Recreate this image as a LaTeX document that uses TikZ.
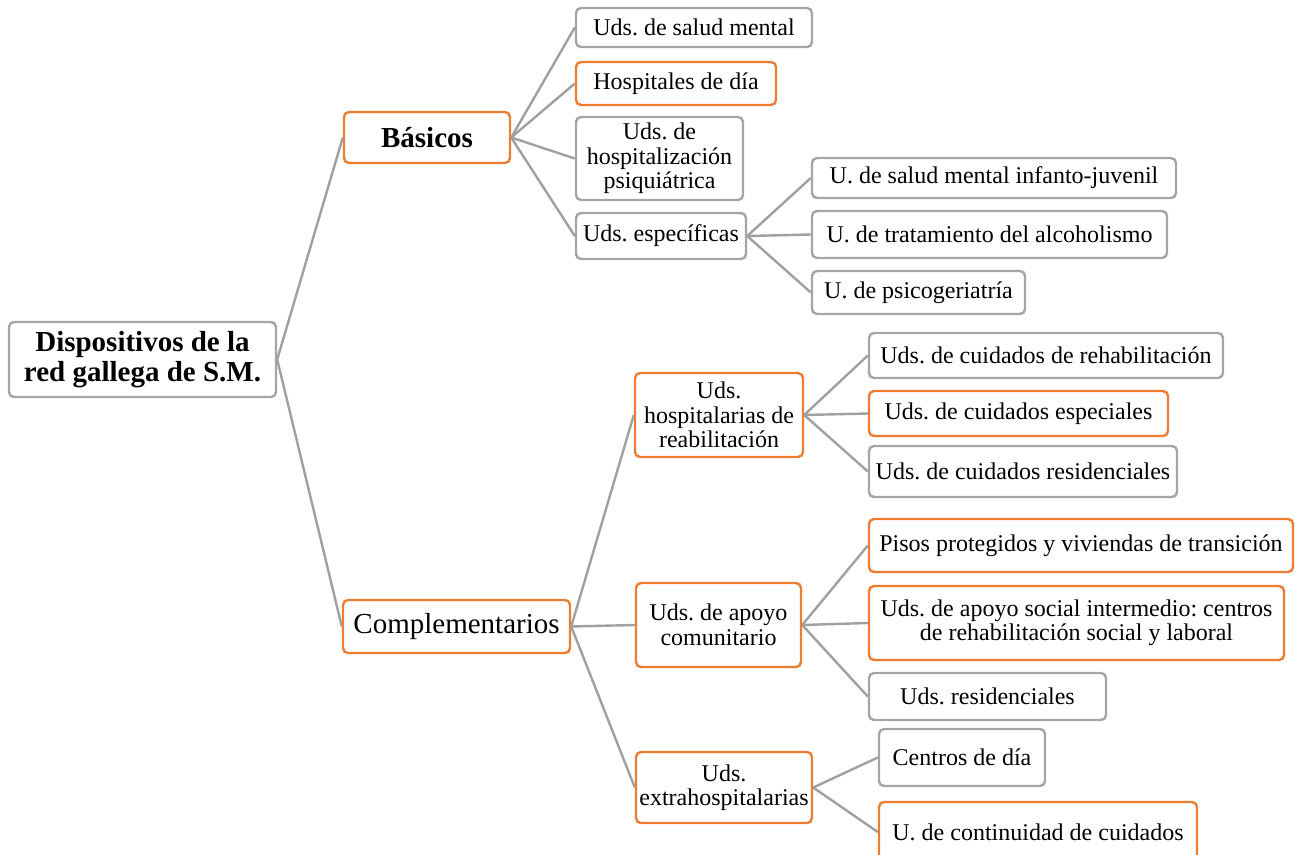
\documentclass[tikz,border=0pt]{standalone}
\usepackage{fontspec}
\setmainfont{Liberation Serif}
\frenchspacing
\definecolor{borange}{HTML}{ED7D31}
\definecolor{bgray}{HTML}{A5A5A5}
\definecolor{lgray}{HTML}{A0A0A0}
\tikzset{
  box/.style={draw=bgray, fill=white, line width=2.4pt, rounded corners=5pt,
    inner sep=0pt, align=center, font=\fontsize{24}{24.5}\selectfont\frenchspacing},
  hot/.style={box, draw=borange},
  big/.style={font=\fontsize{29}{31}\selectfont},
  bigbold/.style={font=\fontsize{29}{30.5}\selectfont\bfseries},
  link/.style={draw=lgray, line width=2.4pt}
}
% \ubox{name}{style}{left}{top}{right}{bottom}{text}
\newcommand\ubox[7]{%
  \node[#2, minimum width={(#5-#3)*1pt}, minimum height={(#6-#4)*1pt}]
    (#1) at ({(#3+#5)/2},{(#4+#6)/2}) {#7};}
\begin{document}
\begin{tikzpicture}[x=1pt,y=-1pt]
\useasboundingbox (0,0) rectangle (1298,854);
\clip (0,0) rectangle (1298,854);

% tree nodes
\ubox{root}{box,bigbold}{9}{322}{276}{397}{Dispositivos de la\\red gallega de S.M.}
\ubox{bas}{hot,bigbold}{344}{112}{510}{163}{Básicos}
\ubox{comp}{hot,big}{343}{600}{570}{653}{Complementarios}

\ubox{b1}{box}{576}{8}{812}{47}{Uds. de salud mental}
\ubox{b2}{hot}{576}{62}{776}{105}{Hospitales de día}
\ubox{b3}{box}{576}{117}{743}{200}{Uds. de\\hospitalización\\psiquiátrica}
\ubox{b4}{box}{576}{213}{746}{259}{Uds. específicas}

\ubox{e1}{box}{812}{158}{1176}{198}{U. de salud mental infanto-juvenil}
\ubox{e2}{box}{812}{211}{1167}{258}{U. de tratamiento del alcoholismo}
\ubox{e3}{box}{812}{271}{1025}{314}{U. de psicogeriatría}

\ubox{h}{hot}{635}{373}{803}{457}{Uds.\\hospitalarias de\\reabilitación}
\ubox{h1}{box}{869}{333}{1223}{378}{Uds. de cuidados de rehabilitación}
\ubox{h2}{hot}{869}{391}{1168}{436}{Uds. de cuidados especiales}
\ubox{h3}{box}{869}{446}{1177}{497}{Uds. de cuidados residenciales}

\ubox{a}{hot}{636}{583}{801}{667}{Uds. de apoyo\\comunitario}
\ubox{a1}{hot}{869}{519}{1293}{572}{Pisos protegidos y viviendas de transición}
\ubox{a2}{hot}{869}{586}{1284}{660}{Uds. de apoyo social intermedio: centros\\de rehabilitación social y laboral}
\ubox{a3}{box}{869}{673}{1106}{720}{Uds. residenciales}

\ubox{x}{hot}{636}{752}{812}{823}{Uds.\\extrahospitalarias}
\ubox{x1}{box}{879}{729}{1045}{786}{Centros de día}
\ubox{x2}{hot}{879}{802}{1197}{862}{U. de continuidad de cuidados}

% connectors
\foreach \p/\c in {root/bas, root/comp,
                   bas/b1, bas/b2, bas/b3, bas/b4,
                   b4/e1, b4/e2, b4/e3,
                   comp/h, comp/a, comp/x,
                   h/h1, h/h2, h/h3,
                   a/a1, a/a2, a/a3,
                   x/x1, x/x2}
  \draw[link] (\p.east) -- (\c.west);
\end{tikzpicture}
\end{document}
